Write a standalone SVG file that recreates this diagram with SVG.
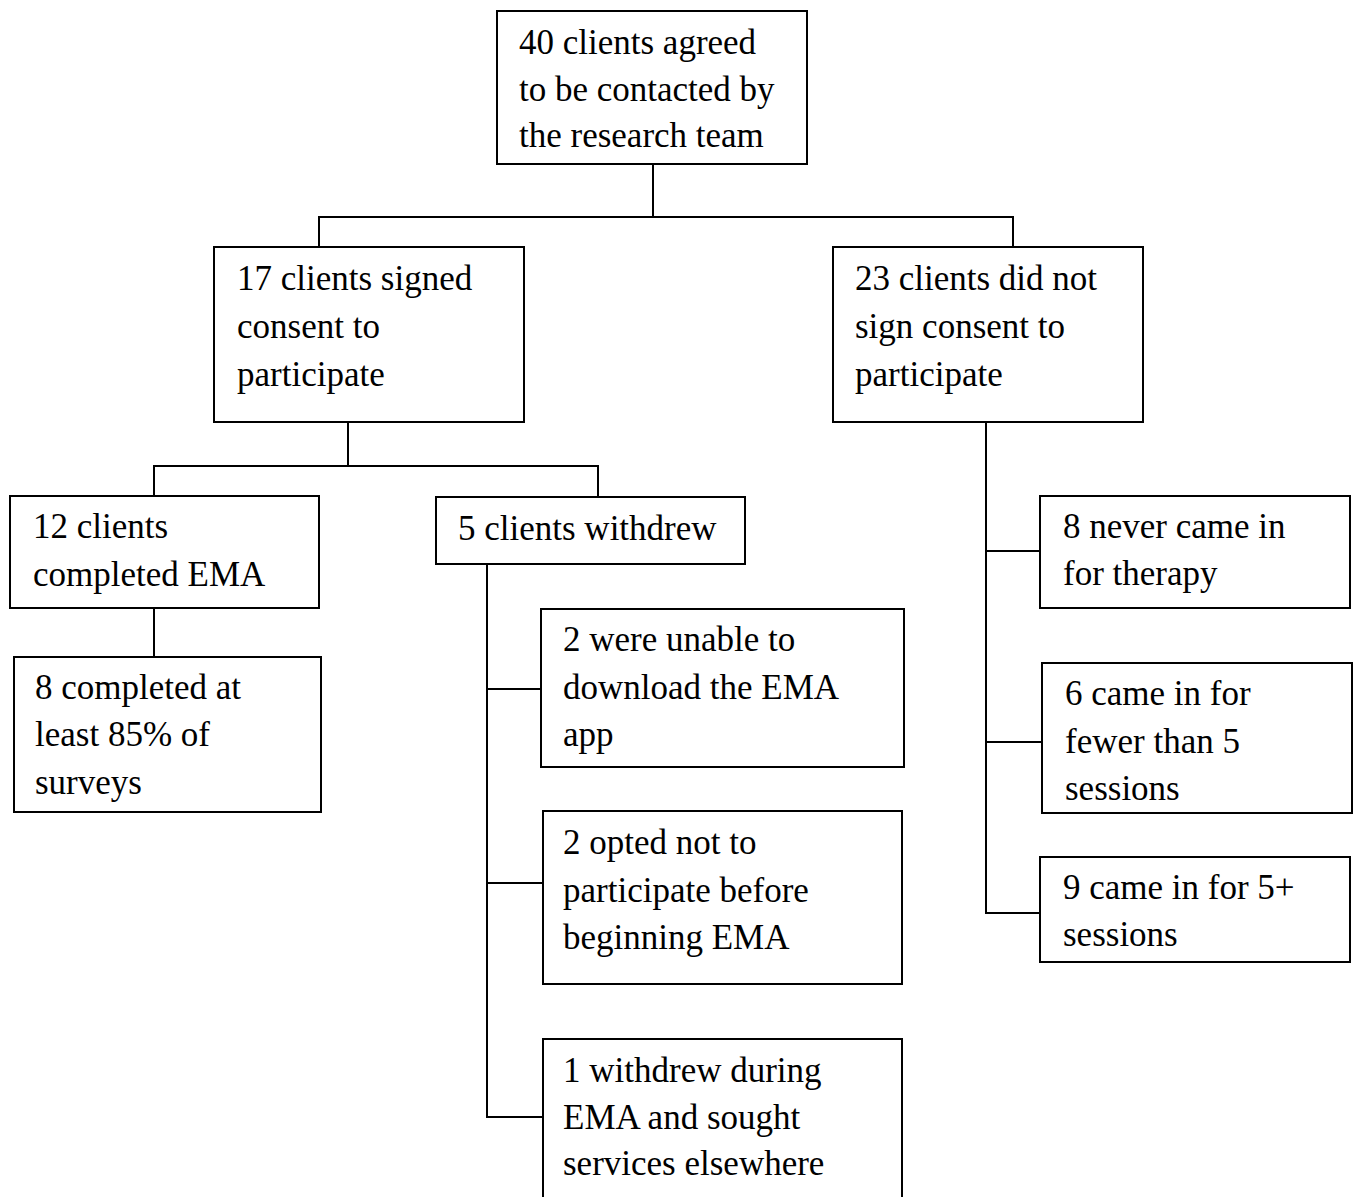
<svg xmlns="http://www.w3.org/2000/svg" width="1356" height="1197" viewBox="0 0 1356 1197">
<style>
.box{fill:#fff;stroke:#000;stroke-width:2}
.c{fill:none;stroke:#000;stroke-width:2}
text{font-family:"Liberation Serif","Times New Roman",serif;font-size:35px;fill:#000}
</style>
<rect width="1356" height="1197" fill="#fff"/>
<g id="connectors">
<path class="c" d="M653,164V217M319,247V217H1013V247"/>
<path class="c" d="M348,422V466M154,496V466H598V497"/>
<path class="c" d="M154,608V657"/>
<path class="c" d="M487,564V1117H543M487,689H541M487,883H543"/>
<path class="c" d="M986,422V913H1040M986,551H1040M986,742H1042"/>
</g>
<g id="n40"><rect class="box" x="497" y="11" width="310" height="153"/>
<text x="519" y="54">40 clients agreed</text><text x="519" y="101">to be contacted by</text><text x="519" y="147">the research team</text></g>
<g id="n17"><rect class="box" x="214" y="247" width="310" height="175"/>
<text x="237" y="290">17 clients signed</text><text x="237" y="338">consent to</text><text x="237" y="386">participate</text></g>
<g id="n23"><rect class="box" x="833" y="247" width="310" height="175"/>
<text x="855" y="290">23 clients did not</text><text x="855" y="338">sign consent to</text><text x="855" y="386">participate</text></g>
<g id="n12"><rect class="box" x="10" y="496" width="309" height="112"/>
<text x="33" y="538">12 clients</text><text x="33" y="586">completed EMA</text></g>
<g id="n5"><rect class="box" x="436" y="497" width="309" height="67"/>
<text x="458" y="540">5 clients withdrew</text></g>
<g id="n8c"><rect class="box" x="14" y="657" width="307" height="155"/>
<text x="35" y="699">8 completed at</text><text x="35" y="746">least 85% of</text><text x="35" y="794">surveys</text></g>
<g id="n2u"><rect class="box" x="541" y="609" width="363" height="158"/>
<text x="563" y="651">2 were unable to</text><text x="563" y="699">download the EMA</text><text x="563" y="746">app</text></g>
<g id="n2o"><rect class="box" x="543" y="811" width="359" height="173"/>
<text x="563" y="854">2 opted not to</text><text x="563" y="902">participate before</text><text x="563" y="949">beginning EMA</text></g>
<g id="n1w"><rect class="box" x="543" y="1039" width="359" height="165"/>
<text x="563" y="1082">1 withdrew during</text><text x="563" y="1129">EMA and sought</text><text x="563" y="1175">services elsewhere</text></g>
<g id="n8n"><rect class="box" x="1040" y="496" width="310" height="112"/>
<text x="1063" y="538">8 never came in</text><text x="1063" y="585">for therapy</text></g>
<g id="n6"><rect class="box" x="1042" y="663" width="310" height="150"/>
<text x="1065" y="705">6 came in for</text><text x="1065" y="753">fewer than 5</text><text x="1065" y="800">sessions</text></g>
<g id="n9"><rect class="box" x="1040" y="857" width="310" height="105"/>
<text x="1063" y="899">9 came in for 5+</text><text x="1063" y="946">sessions</text></g>
</svg>
